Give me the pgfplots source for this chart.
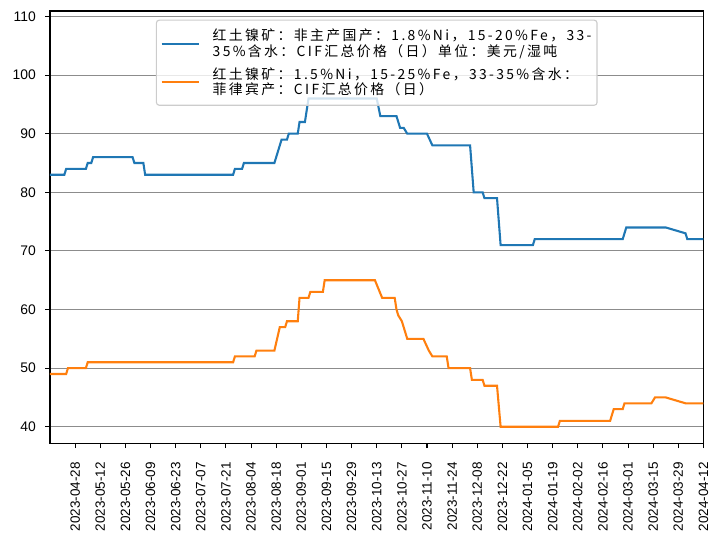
\documentclass[border=0pt]{standalone}
\usepackage{pgfplots}
\pgfplotsset{compat=1.18}
\usepackage{fontspec}
\setmainfont{Liberation Sans}
\newfontfamily\cjk[LetterSpace=17]{Noto Sans CJK SC}
\definecolor{mblue}{HTML}{1F77B4}
\definecolor{morange}{HTML}{FF7F0E}
\newcommand\twolines[2]{$\vcenter{\baselineskip=11.3bp\lineskiplimit=-20bp\lineskip=0bp\kern3bp\hbox{#1}\hbox{#2}\kern3bp}$}
\begin{document}
\begin{tikzpicture}
\begin{axis}[
  name=ax,
  scale only axis,
  width=470.5bp, height=311.3bp,
  xmin=-14, xmax=350,
  ymin=37.17, ymax=110.94,
  axis line style={black, line width=0.8bp},
  tick align=outside,
  major tick length=3.5bp,
  tick style={black, line width=0.8bp},
  xtick={0,14,...,350},
  xticklabels={2023-04-28,2023-05-12,2023-05-26,2023-06-09,2023-06-23,2023-07-07,2023-07-21,2023-08-04,2023-08-18,2023-09-01,2023-09-15,2023-09-29,2023-10-13,2023-10-27,2023-11-10,2023-11-24,2023-12-08,2023-12-22,2024-01-05,2024-01-19,2024-02-02,2024-02-16,2024-03-01,2024-03-15,2024-03-29,2024-04-12},
  ytick={40,50,...,110},
  xtick pos=bottom, ytick pos=left,
  xticklabel style={rotate=90, anchor=east, inner sep=0pt, font=\fontsize{9.7bp}{12bp}\selectfont},
  yticklabel style={anchor=east, inner sep=0pt, font=\fontsize{10bp}{12bp}\selectfont},
  xticklabel shift=10bp,
  yticklabel shift=6.5bp,
  /pgf/number format/assume math mode=true,
  ymajorgrids,
  major grid style={color=black!45, line width=0.8bp},
  legend cell align=left,
  legend image code/.code={\draw[#1] (0bp,0bp) -- (27bp,0bp); \path (35bp,0bp);},
  legend style={at={(0.5,0.98)}, anchor=north, draw=black!20, rounded corners=2bp,
    fill=white, fill opacity=0.8, text opacity=1, line width=0.8bp,
    font=\cjk\fontsize{10bp}{11.3bp}\selectfont,
    inner xsep=3bp, inner ysep=3.5bp,
    nodes={inner xsep=1bp, inner ysep=0bp, text depth=}},
]
\addplot[mblue, line width=1.5bp] coordinates {
(-14,83)(-6,83)(-5,84)(6,84)(7,85)(9,85)(10,86)(32,86)(33,85)(38,85)(39,83)(88,83)(89,84)(93,84)(94,85)(111,85)(115,89)(118,89)(119,90)(124,90)(125,92)(128,92)(130,96)(168,96)(170,93)(179,93)(181,91)(183,91)(185,90)(196,90)(199,88)(220,88)(222,80)(227,80)(228,79)(235,79)(237,71)(255,71)(256,72)(305,72)(307,74)(329,74)(340,73)(341,72)(350,72)
};
\addlegendentry{\twolines{红土镍矿：非主产国产：1.8\%Ni，15-20\%Fe，33-}{35\%含水：CIF汇总价格（日）单位：美元/湿吨}}
\addplot[morange, line width=1.5bp] coordinates {
(-14,49)(-5,49)(-4,50)(6,50)(7,51)(88,51)(89,52)(100,52)(101,53)(111,53)(114,57)(117,57)(118,58)(124,58)(125,62)(130,62)(131,63)(138,63)(139,65)(167,65)(171,62)(178,62)(179,60)(180,59)(182,58)(185,55)(194,55)(197,53)(199,52)(207,52)(208,50)(220,50)(221,48)(227,48)(228,47)(235,47)(237,40)(269,40)(270,41)(298,41)(300,43)(305,43)(306,44)(321,44)(323,45)(329,45)(340,44)(350,44)
};
\addlegendentry{\twolines{红土镍矿：1.5\%Ni，15-25\%Fe，33-35\%含水：}{菲律宾产：CIF汇总价格（日）}}
\end{axis}
\path (ax.south west) ++(-36bp,-64.6bp) coordinate (A);
\path (ax.north east) ++(4.7bp,7.9bp) coordinate (B);
\pgfresetboundingbox
\path (A) rectangle (B);
\end{tikzpicture}
\end{document}
